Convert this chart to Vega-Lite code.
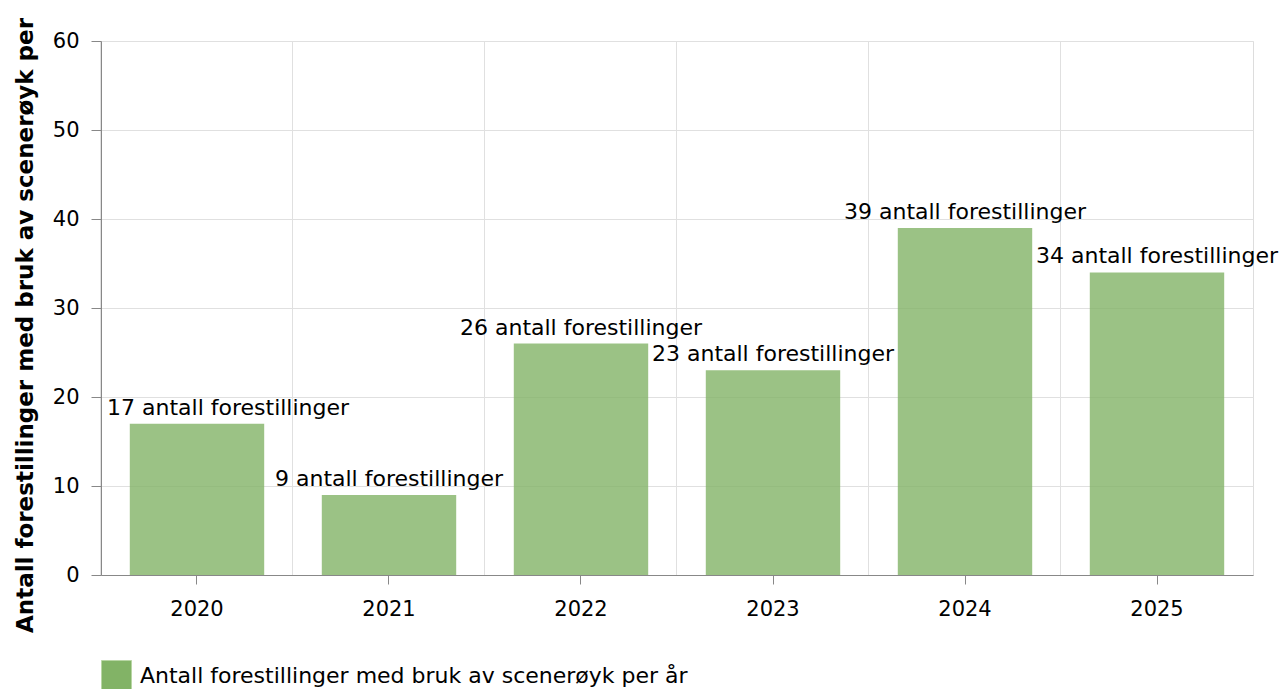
{
  "$schema": "https://vega.github.io/schema/vega-lite/v6.json",
  "width": 1152,
  "height": 534,
  "autosize": {"type": "none"},
  "padding": {"left": 101, "top": 41, "right": 26, "bottom": 114},
  "background": "white",
  "config": {
    "font": "DejaVu Sans",
    "view": {"stroke": "#dddddd", "strokeWidth": 1}
  },
  "data": {
    "values": [
      {"year": "2020", "value": 17, "label": "17 antall forestillinger", "series": "Antall forestillinger med bruk av scenerøyk per år"},
      {"year": "2021", "value": 9, "label": "9 antall forestillinger", "series": "Antall forestillinger med bruk av scenerøyk per år"},
      {"year": "2022", "value": 26, "label": "26 antall forestillinger", "series": "Antall forestillinger med bruk av scenerøyk per år"},
      {"year": "2023", "value": 23, "label": "23 antall forestillinger", "series": "Antall forestillinger med bruk av scenerøyk per år"},
      {"year": "2024", "value": 39, "label": "39 antall forestillinger", "series": "Antall forestillinger med bruk av scenerøyk per år"},
      {"year": "2025", "value": 34, "label": "34 antall forestillinger", "series": "Antall forestillinger med bruk av scenerøyk per år"}
    ]
  },
  "encoding": {
    "x": {
      "field": "year",
      "type": "nominal",
      "scale": {"paddingInner": 0.3, "paddingOuter": 0.15}
    },
    "y": {
      "field": "value",
      "type": "quantitative",
      "scale": {"domain": [0, 60], "nice": false}
    }
  },
  "layer": [
    {
      "mark": {"type": "bar", "fillOpacity": 0.8},
      "encoding": {
        "x": {
          "field": "year",
          "type": "nominal",
          "axis": {
            "orient": "bottom",
            "bandPosition": -0.2143,
            "grid": true,
            "gridColor": "#e0e0e0",
            "ticks": false,
            "labels": false,
            "domain": false,
            "title": null
          }
        },
        "y": {
          "field": "value",
          "type": "quantitative",
          "axis": {
            "values": [0, 10, 20, 30, 40, 50, 60],
            "grid": true,
            "gridColor": "#e0e0e0",
            "domainColor": "#888888",
            "tickColor": "#888888",
            "tickSize": 10,
            "labelPadding": 12,
            "labelFontSize": 21,
            "labelColor": "#000000",
            "title": "Antall forestillinger med bruk av scenerøyk per",
            "titleFontSize": 23,
            "titleFontWeight": "bold",
            "titleColor": "#000000",
            "titleAngle": -90,
            "titleAlign": "center",
            "titleBaseline": "middle",
            "titleX": -76,
            "titleY": 284,
            "titleLimit": 1000
          }
        },
        "color": {
          "field": "series",
          "type": "nominal",
          "scale": {"range": ["#82b366"]},
          "legend": {
            "orient": "none",
            "legendX": 0,
            "legendY": 619,
            "title": null,
            "symbolType": "square",
            "symbolSize": 900,
            "symbolOpacity": 1,
            "symbolStrokeColor": "#b8d6a4",
            "symbolStrokeWidth": 1,
            "labelFontSize": 22,
            "labelColor": "#000000",
            "labelOffset": 8,
            "labelLimit": 1000
          }
        }
      }
    },
    {
      "transform": [{"filter": "datum.year != '2020'"}],
      "mark": {"type": "text", "baseline": "alphabetic", "dy": -9, "fontSize": 22, "color": "#000000"},
      "encoding": {
        "x": {
          "field": "year",
          "type": "nominal",
          "axis": {
            "orient": "bottom",
            "grid": false,
            "domainColor": "#888888",
            "tickColor": "#888888",
            "tickSize": 9,
            "labelPadding": 14,
            "labelFontSize": 21,
            "labelColor": "#000000",
            "labelAngle": 0,
            "title": null
          }
        },
        "text": {"field": "label"}
      }
    },
    {
      "transform": [{"filter": "datum.year == '2020'"}],
      "mark": {"type": "text", "baseline": "alphabetic", "align": "left", "dx": -90, "dy": -9, "fontSize": 22, "color": "#000000"},
      "encoding": {
        "x": {"field": "year", "type": "nominal", "axis": null},
        "text": {"field": "label"}
      }
    }
  ],
  "resolve": {"axis": {"x": "independent"}}
}
